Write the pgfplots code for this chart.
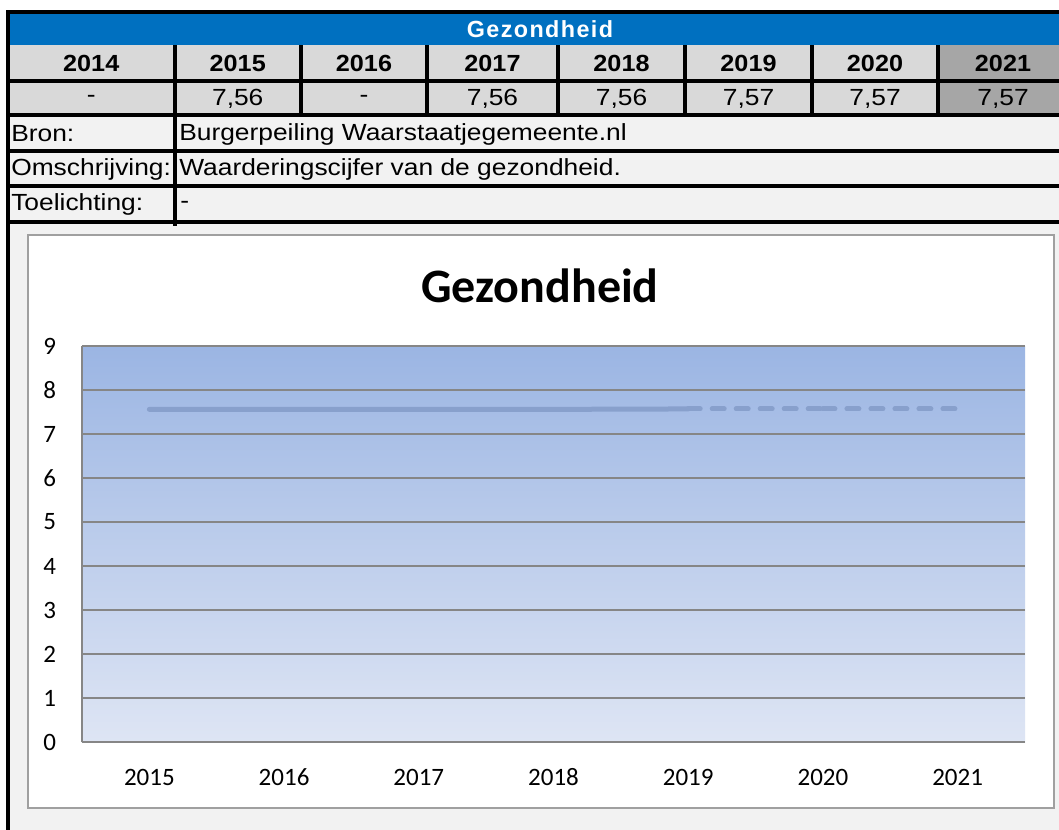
\documentclass[border=0pt]{standalone}
\usepackage{pgfplots}
\pgfplotsset{compat=1.18}
\usepackage{fontspec}
\setmainfont{Liberation Sans}
\newfontfamily\calibri{Carlito}
\newfontfamily\arialw[FakeStretch=1.13]{Liberation Sans}
\newfontfamily\arialbw[FakeStretch=1.08]{Liberation Sans Bold}
\definecolor{tblue}{RGB}{0,112,192}
\definecolor{hgray}{RGB}{217,217,217}
\definecolor{dgray}{RGB}{166,166,166}
\definecolor{lgray}{RGB}{242,242,242}
\definecolor{gridgray}{RGB}{134,134,134}
\definecolor{framegray}{RGB}{160,160,160}
\definecolor{bgtop}{RGB}{155,181,227}
\definecolor{bgbot}{RGB}{222,229,244}
\definecolor{linec}{RGB}{136,160,204}
\newcommand{\tf}{\fontsize{17.5}{20}\selectfont}
\begin{document}
\begin{tikzpicture}
\begin{scope}[x=0.75pt,y=-0.75pt]
\path[use as bounding box] (0,0) rectangle (1059,830);
\fill[white] (0,0) rectangle (1059,830);
\fill[lgray] (8,12) rectangle (1059,830);
\fill[tblue] (8,12) rectangle (1059,45.5);
\fill[hgray] (8,45.5) rectangle (938,116);
\fill[dgray] (938,45.5) rectangle (1059,116);
% horizontal lines
\foreach \yy in {12,81,115.5,151.5,186.5,222}
  \draw[line width=3pt] (6,\yy) -- (1059,\yy);
% left border
\draw[line width=3pt] (8,10.5) -- (8,830);
% vertical separators in year/value rows
\foreach \xx in {174.5,301,427,558,685,812,938}
  \draw[line width=3pt] (\xx,45.5) -- (\xx,117);
\draw[line width=3pt] (174.5,115) -- (174.5,226);
% title
\node[text=white,font=\bfseries\tf\addfontfeature{LetterSpace=6}] at (540,29.5) {Gezondheid};
% years
\foreach \xa/\xb/\t in {8/174.5/2014,174.5/301/2015,301/427/2016,427/558/2017,558/685/2018,685/812/2019,812/938/2020,938/1068/2021}
  \node[font=\arialbw\tf] at ({(\xa+\xb)/2},63.5) {\t};
\foreach \xa/\xb/\t in {8/174.5/-,174.5/301/{7,56},301/427/-,427/558/{7,56},558/685/{7,56},685/812/{7,57},812/938/{7,57},938/1068/{7,57}}
  \node[font=\arialw\tf] at ({(\xa+\xb)/2},98.5) {\t};
\node[font=\arialw\tf,anchor=west,inner sep=0pt] at (11,134) {Bron:};
\node[font=\arialw\tf,anchor=west,inner sep=0pt] at (11,169.5) {Omschrijving:};
\node[font=\arialw\tf,anchor=west,inner sep=0pt] at (11,204.5) {Toelichting:};
\node[font=\arialw\tf,anchor=west,inner sep=0pt] at (179,134) {Burgerpeiling Waarstaatjegemeente.nl};
\node[font=\arialw\tf,anchor=west,inner sep=0pt] at (179,169.5) {Waarderingscijfer van de gezondheid.};
\node[font=\arialw\tf,anchor=west,inner sep=0pt] at (180,204.5) {-};
% chart frame
\draw[framegray,line width=1.5pt,fill=white] (28,235) rectangle (1054,808);
\node[font=\calibri\bfseries\fontsize{36}{40}\selectfont] at (540,286) {Gezondheid};
\end{scope}
\begin{axis}[
  at={(61.5pt,-556.5pt)}, anchor=south west,
  width=707.25pt, height=297pt, scale only axis,
  xmin=-0.5, xmax=6.5, ymin=0, ymax=9,
  xtick={0,1,2,3,4,5,6},
  xticklabels={2015,2016,2017,2018,2019,2020,2021},
  ytick={0,1,2,3,4,5,6,7,8,9},
  /pgf/number format/assume math mode=true,
  ymajorgrids, grid style={color=gridgray,line width=1.5pt},
  axis x line*=bottom, axis y line*=left,
  axis line style={color=gridgray,line width=1.5pt,-},
  major tick length=0pt,
  tick label style={font=\calibri\fontsize{18.75}{20}\selectfont},
  yticklabel style={xshift=-16pt},
  xticklabel style={yshift=-17pt,text height=12pt,text depth=0pt},
  axis background/.style={top color=bgtop,bottom color=bgbot},
  clip=false,
]
\addplot[linec,line width=3.75pt,line cap=round] coordinates {(0,7.56)(2,7.56)(3,7.56)(4,7.57)};
\addplot[linec,line width=3.75pt,line cap=round,dash pattern=on 9pt off 9pt] coordinates {(4,7.57)(5,7.57)};
\addplot[linec,line width=3.75pt,line cap=round,dash pattern=on 9pt off 9pt] coordinates {(5,7.57)(6,7.57)};
\end{axis}
\end{tikzpicture}
\end{document}
